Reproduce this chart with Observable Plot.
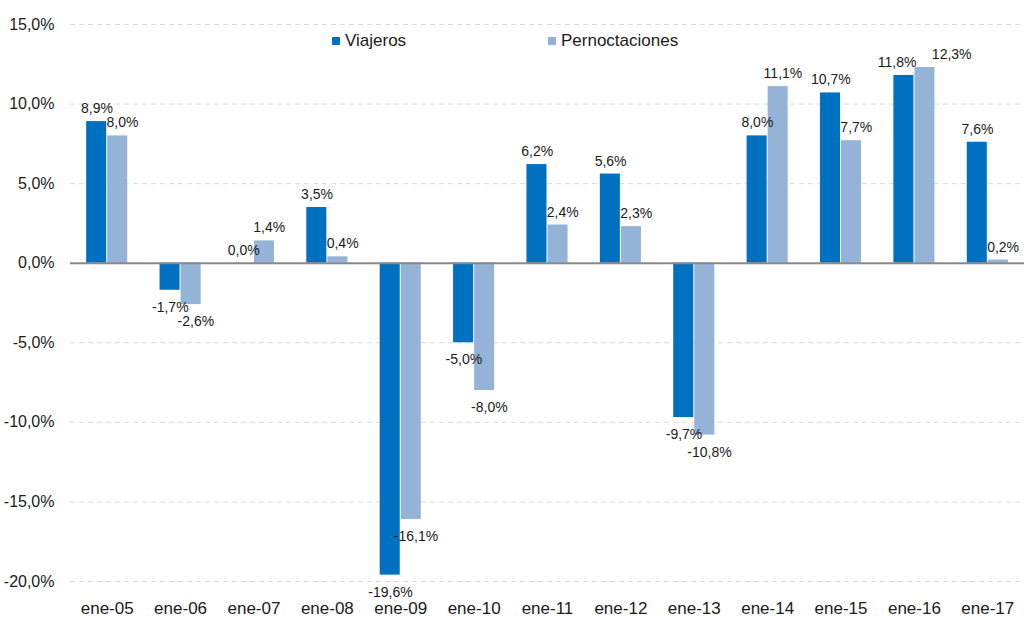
<!DOCTYPE html>
<html><head><meta charset="utf-8">
<script src="https://cdn.jsdelivr.net/npm/d3@7"></script>
<script src="https://cdn.jsdelivr.net/npm/@observablehq/plot@0.6"></script>
<style>
body{margin:0;background:#fff;font-family:"Liberation Sans",Arial,sans-serif;}
#wrap{position:relative;width:1024px;height:617px;}
.leg{position:absolute;font-size:17px;color:#1a1a1a;display:flex;align-items:center;line-height:17px;}
.sw{width:8px;height:8px;margin-right:5px;}
</style></head><body><div id="wrap"></div>
<script>
const categories = ["ene-05","ene-06","ene-07","ene-08","ene-09","ene-10","ene-11","ene-12","ene-13","ene-14","ene-15","ene-16","ene-17"];
const viajeros = [8.9, -1.7, 0.0, 3.5, -19.6, -5.0, 6.2, 5.6, -9.7, 8.0, 10.7, 11.8, 7.6];
const pernoctaciones = [8.0, -2.6, 1.4, 0.4, -16.1, -8.0, 2.4, 2.3, -10.8, 11.1, 7.7, 12.3, 0.2];
const seriesNames = ["Viajeros", "Pernoctaciones"];
const seriesColors = ["#0070C0", "#95B3D7"];
const yTicks = [-20, -15, -10, -5, 0, 5, 10, 15];

const W = 1024, H = 617, mL = 70, mR = 0, mT = 24, mB = 36;
const padIn = 0.44, padOut = 0.22;
const step = (W - mL - mR) / (categories.length - padIn + 2 * padOut);
const bw = step * (1 - padIn);
const half = bw / 2;
const pxPerUnit = (H - mT - mB) / 35;

const rows = [];
categories.forEach((c, i) => {
  const v = viajeros[i], p = pernoctaciones[i];
  const clash = Math.sign(v) === Math.sign(p) && Math.abs(v - p) * pxPerUnit < 13;
  rows.push({cat: c, serie: seriesNames[0], value: v, shift: clash ? -7 : 0});
  rows.push({cat: c, serie: seriesNames[1], value: p, shift: clash ? 22 : 0});
});
const fmt = d => d.toFixed(1).replace(".", ",") + "%";
const txt = {fill: "#1a1a1a", fontSize: 14, text: d => fmt(d.value), x: "cat", y: "value"};
const sel = (s, pos, clash) => rows.filter(d => d.serie === s && (d.value >= 0) === pos && (d.shift !== 0) === clash);

const labelMarks = [];
[0, 1].forEach(si => {
  const baseDx = si === 0 ? -half / 2 : half / 2 + 5;
  [true, false].forEach(pos => {
    [false, true].forEach(clash => {
      const data = sel(seriesNames[si], pos, clash);
      if (!data.length) return;
      const extra = clash ? data[0].shift : 0;
      labelMarks.push(Plot.text(data, {...txt, dx: baseDx + extra, dy: pos ? -13 : 17}));
    });
  });
});

const chart = Plot.plot({
  width: W, height: H,
  marginLeft: mL, marginRight: mR, marginTop: mT, marginBottom: mB,
  style: {fontFamily: "'Liberation Sans', Arial, sans-serif", background: "#fff"},
  x: {type: "band", domain: categories, paddingInner: padIn, paddingOuter: padOut, round: false, axis: null},
  y: {domain: [-20, 15], axis: null},
  marks: [
    Plot.ruleY(yTicks.filter(d => d !== 0), {stroke: "#d9d9d9", strokeWidth: 1, strokeDasharray: "5,4"}),
    Plot.barY(rows.filter(d => d.serie === seriesNames[0]), {x: "cat", y: "value", fill: seriesColors[0], insetRight: half + 0.5, insetLeft: 0}),
    Plot.barY(rows.filter(d => d.serie === seriesNames[1]), {x: "cat", y: "value", fill: seriesColors[1], insetLeft: half + 0.5, insetRight: 0}),
    Plot.ruleY([0], {stroke: "#898989", strokeWidth: 2}),
    Plot.axisY({ticks: yTicks, tickFormat: fmt, tickSize: 0, tickPadding: 16, fontSize: 16, label: null, fill: "#1a1a1a"}),
    Plot.axisX({tickSize: 0, tickPadding: 20, fontSize: 17, label: null, fill: "#1a1a1a"}),
    ...labelMarks
  ]
});
const wrap = document.getElementById("wrap");
wrap.appendChild(chart);
const legPos = [332, 548];
seriesNames.forEach((s, i) => {
  const el = document.createElement("div");
  el.className = "leg";
  el.style.left = legPos[i] + "px";
  el.style.top = "32px";
  el.innerHTML = `<span class="sw" style="background:${seriesColors[i]}"></span><span>${s}</span>`;
  wrap.appendChild(el);
});
</script>
</body></html>
